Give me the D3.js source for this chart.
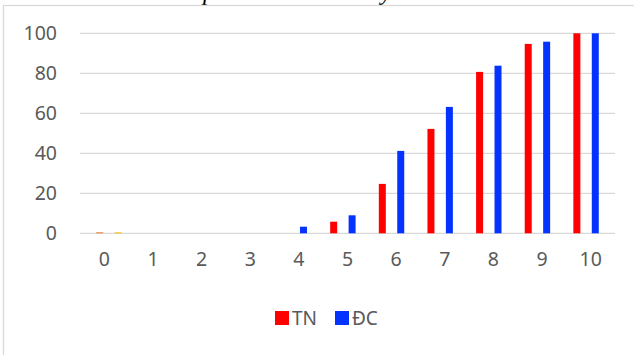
<!DOCTYPE html>
<html>
<head>
<meta charset="utf-8">
<script src="https://cdn.jsdelivr.net/npm/d3@7"></script>
<style>
  html, body { margin: 0; padding: 0; background: #fff; }
  svg { display: block; }
</style>
</head>
<body>
<script>
// Score categories (0–10) and cumulative percentages per group
const categories = ["0", "1", "2", "3", "4", "5", "6", "7", "8", "9", "10"];
const tnValues  = [0, 0, 0, 0, 0, 5.8, 24.7, 52.2, 80.7, 94.7, 100];
const dcValues  = [0, 0, 0, 0, 3.3, 9.0, 41.2, 63.2, 83.8, 95.8, 100];
const s3Values  = [0.5, 0, 0, 0, 0, 0, 0, 0, 0, 0, 0];
const s4Values  = [0.5, 0, 0, 0, 0, 0, 0, 0, 0, 0, 0];
const yTicks    = [0, 20, 40, 60, 80, 100];
const seriesNames  = ["TN", "S3", "ĐC", "S4"];
const seriesColors = ["#ff0000", "#ed7d31", "#0433ff", "#ffc000"];
const legendNames  = ["TN", "ĐC"];
const legendColors = ["#ff0000", "#0433ff"];
const titleText = "Biểu đồ phần trăm điểm lũy tích";

const W = 634, H = 355;
const svg = d3.select("body").append("svg").attr("width", W).attr("height", H);

// caption sitting above the chart frame, only its lowest strokes reach the page
const title = svg.append("text")
  .attr("y", 0)
  .attr("font-family", "Liberation Serif, Times New Roman, serif")
  .attr("font-style", "italic")
  .attr("font-size", 17)
  .attr("fill", "#000")
  .text(titleText);
const pIdx = titleText.indexOf("p"), yIdx = titleText.indexOf("y");
const span = title.node().getStartPositionOfChar(yIdx).x - title.node().getStartPositionOfChar(pIdx).x;
title.attr("font-size", 17 * 178 / span);
const pX = title.node().getStartPositionOfChar(pIdx).x;
title.attr("x", 203 - pX);

// chart frame
svg.append("rect")
  .attr("x", 3.5).attr("y", 5.5)
  .attr("width", 800).attr("height", 500)
  .attr("fill", "none").attr("stroke", "#d9d9d9").attr("stroke-width", 1.3);

const plot = { left: 80, right: 615, top: 33.3, bottom: 233.3 };

const x = d3.scaleBand().domain(categories).range([plot.left, plot.right]).padding(0);
const xSub = d3.scaleBand().domain(seriesNames).range([0, x.bandwidth()])
  .paddingInner(0.24).paddingOuter(0.76);
const y = d3.scaleLinear().domain([0, 100]).range([plot.bottom, plot.top]);

const font = "Noto Sans, Open Sans, sans-serif";

// gridlines
svg.append("g").selectAll("line").data(yTicks).join("line")
  .attr("x1", plot.left).attr("x2", plot.right)
  .attr("y1", d => y(d)).attr("y2", d => y(d))
  .attr("stroke", "#d9d9d9").attr("stroke-width", 1.3);

// y axis labels
const yAxis = d3.axisLeft(y).tickValues(yTicks).tickSize(0).tickPadding(0);
const gy = svg.append("g").attr("transform", "translate(57,0)").call(yAxis);
gy.select(".domain").remove();
gy.selectAll("text")
  .attr("font-family", font).attr("font-size", 19.5).attr("fill", "#595959");

// x axis labels
const xAxis = d3.axisBottom(x).tickSize(0).tickPadding(0);
const gx = svg.append("g").attr("transform", "translate(0,252)").call(xAxis);
gx.select(".domain").remove();
gx.selectAll("text")
  .attr("font-family", font).attr("font-size", 19.5).attr("fill", "#595959");

// bars
const seriesData = [tnValues, s3Values, dcValues, s4Values];
seriesNames.forEach((name, i) => {
  svg.append("g").selectAll("rect")
    .data(categories.map((c, j) => ({ c, v: seriesData[i][j] })).filter(d => d.v > 0))
    .join("rect")
    .attr("x", d => x(d.c) + xSub(name))
    .attr("width", xSub.bandwidth())
    .attr("y", d => y(d.v))
    .attr("height", d => y(0) - y(d.v))
    .attr("fill", seriesColors[i]);
});

// legend
const legend = svg.append("g").attr("transform", "translate(275,311)");
const legendX = d3.scalePoint().domain(legendNames).range([0, 60]);
legendNames.forEach((n, i) => {
  const g = legend.append("g").attr("transform", `translate(${legendX(n)},0)`);
  g.append("rect").attr("width", 14).attr("height", 14).attr("fill", legendColors[i]);
  g.append("text").attr("x", 17).attr("y", 13.5)
    .attr("font-family", font).attr("font-size", 19)
    .attr("fill", "#595959").text(n);
});
</script>
</body>
</html>
